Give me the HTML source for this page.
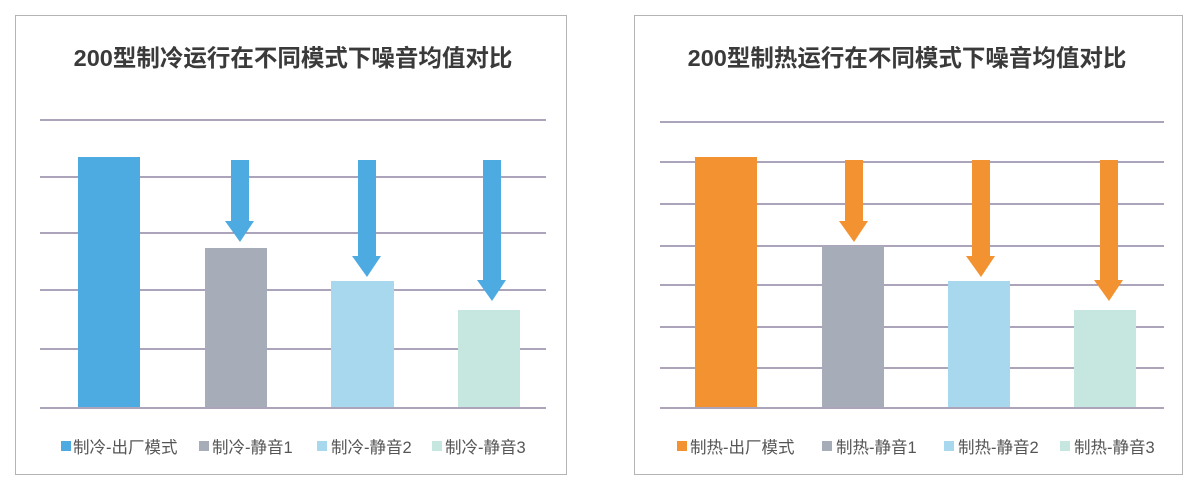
<!DOCTYPE html>
<html><head><meta charset="utf-8"><style>
body{margin:0;background:#fff;}
text{font-family:"Liberation Sans","Noto Sans CJK SC",sans-serif;}
</style></head><body>
<svg width="1203" height="496" viewBox="0 0 1203 496" xmlns="http://www.w3.org/2000/svg">
<rect x="0" y="0" width="1203" height="496" fill="#fff"/>
<!-- Left panel -->
<rect x="15.5" y="15.5" width="551" height="459" fill="#fff" stroke="#b4b4b4" stroke-width="1"/>
<text x="293" y="66" text-anchor="middle" font-size="23.5" font-weight="bold" fill="#3a3a3a">200型制冷运行在不同模式下噪音均值对比</text>
<g stroke="#7a6e92" stroke-width="1.3">
<line x1="40" y1="120" x2="546" y2="120"/>
<line x1="40" y1="177" x2="546" y2="177"/>
<line x1="40" y1="233" x2="546" y2="233"/>
<line x1="40" y1="290" x2="546" y2="290"/>
<line x1="40" y1="349" x2="546" y2="349"/>
<line x1="40" y1="408" x2="546" y2="408"/>
</g>
<rect x="78" y="157" width="62" height="250" fill="#4eabe1"/>
<rect x="205" y="248" width="62" height="159" fill="#a6adb8"/>
<rect x="331" y="281" width="63" height="126" fill="#a7d8ee"/>
<rect x="458" y="310" width="62" height="97" fill="#c6e7e0"/>
<polygon points="231,160 249,160 249,221 254,221 240,242 225,221 231,221" fill="#4eabe1"/>
<polygon points="358,160 376,160 376,256 381,256 367,277 352,256 358,256" fill="#4eabe1"/>
<polygon points="483,160 501,160 501,280 506,280 492,301 477,280 483,280" fill="#4eabe1"/>
<g font-size="16.5" fill="#555">
<rect x="61" y="441" width="10" height="10" fill="#4eabe1"/><text x="73" y="453">制冷-出厂模式</text>
<rect x="199" y="441" width="10" height="10" fill="#a6adb8"/><text x="212" y="453">制冷-静音1</text>
<rect x="317" y="441" width="10" height="10" fill="#a7d8ee"/><text x="331" y="453">制冷-静音2</text>
<rect x="432" y="441" width="10" height="10" fill="#c6e7e0"/><text x="445" y="453">制冷-静音3</text>
</g>
<!-- Right panel -->
<rect x="634.5" y="15.5" width="548" height="459" fill="#fff" stroke="#b4b4b4" stroke-width="1"/>
<text x="907" y="66" text-anchor="middle" font-size="23.5" font-weight="bold" fill="#3a3a3a">200型制热运行在不同模式下噪音均值对比</text>
<g stroke="#7a6e92" stroke-width="1.3">
<line x1="660" y1="122" x2="1164" y2="122"/>
<line x1="660" y1="162" x2="1164" y2="162"/>
<line x1="660" y1="204" x2="1164" y2="204"/>
<line x1="660" y1="246" x2="1164" y2="246"/>
<line x1="660" y1="285" x2="1164" y2="285"/>
<line x1="660" y1="327" x2="1164" y2="327"/>
<line x1="660" y1="368" x2="1164" y2="368"/>
<line x1="660" y1="408" x2="1164" y2="408"/>
</g>
<rect x="695" y="157" width="62" height="250" fill="#f39231"/>
<rect x="822" y="246" width="62" height="161" fill="#a6adb8"/>
<rect x="948" y="281" width="62" height="126" fill="#a7d8ee"/>
<rect x="1074" y="310" width="62" height="97" fill="#c6e7e0"/>
<polygon points="845,160 863,160 863,221 868,221 854,242 839,221 845,221" fill="#f39231"/>
<polygon points="972,160 990,160 990,256 995,256 981,277 966,256 972,256" fill="#f39231"/>
<polygon points="1100,160 1118,160 1118,280 1123,280 1109,301 1094,280 1100,280" fill="#f39231"/>
<g font-size="16.5" fill="#555">
<rect x="677" y="441" width="10" height="10" fill="#f39231"/><text x="690" y="453">制热-出厂模式</text>
<rect x="822" y="441" width="10" height="10" fill="#a6adb8"/><text x="836" y="453">制热-静音1</text>
<rect x="944" y="441" width="10" height="10" fill="#a7d8ee"/><text x="958" y="453">制热-静音2</text>
<rect x="1060" y="441" width="10" height="10" fill="#c6e7e0"/><text x="1074" y="453">制热-静音3</text>
</g>
</svg>
</body></html>
